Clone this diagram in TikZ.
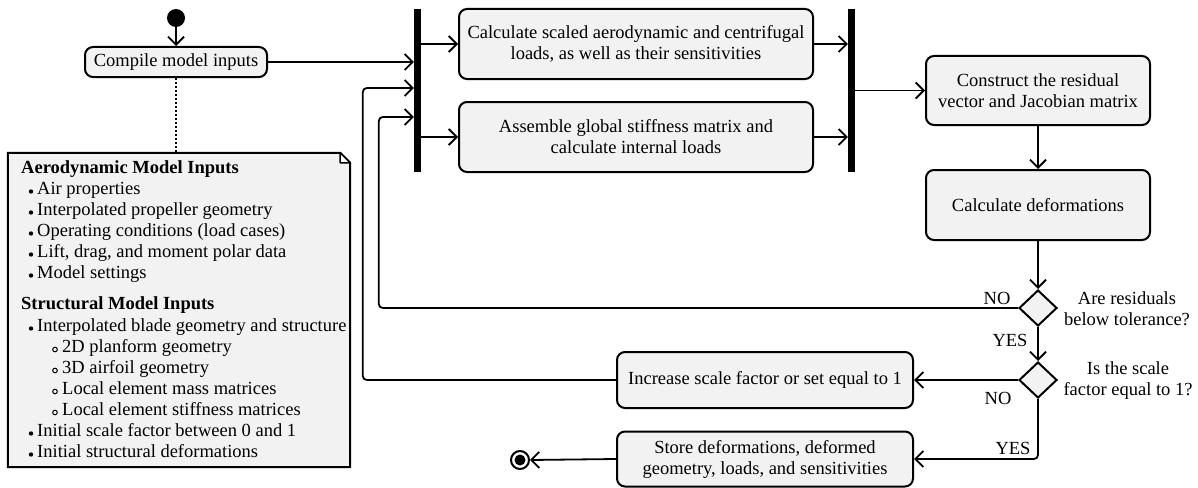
\documentclass[tikz,border=0pt]{standalone}
\usepackage{fontspec}
\setmainfont{Liberation Serif}
\usetikzlibrary{arrows.meta,shapes.geometric,calc}
\definecolor{boxgray}{HTML}{F2F2F2}
\begin{document}
\begin{tikzpicture}[x=1pt,y=-1pt,
  font=\fontsize{18.5}{21}\selectfont,
  every node/.style={inner sep=0pt},
  actbox/.style={draw, line width=2pt, fill=boxgray, rounded corners=8pt, align=center},
  barnode/.style={fill=black, minimum width=7pt, minimum height=163pt},
  arr/.style={line width=1.8pt, -{Straight Barb[length=8pt,width=16pt,line width=1.8pt]}},
  dec/.style={diamond, draw, line width=2pt, fill=boxgray, minimum width=38pt, minimum height=36pt},
  notetxt/.style={anchor=base west},
  lbl/.style={anchor=center}
]
\useasboundingbox (0,0) rectangle (1198,487);

% start
\node[circle, fill=black, minimum size=18pt] (start) at (176,18) {};
\node[actbox, minimum width=182pt, minimum height=30pt] (compile) at (176,62) {Compile model inputs};

% bars
\node[barnode] (bar1) at (417.5,90.5) {};
\node[barnode] (bar2) at (851.5,90.5) {};

% boxes
\node[actbox, minimum width=354pt, minimum height=70pt] (box1) at (636,44) {Calculate scaled aerodynamic and centrifugal\\loads, as well as their sensitivities};
\node[actbox, minimum width=354pt, minimum height=70pt] (box2) at (636,137) {Assemble global stiffness matrix and\\calculate internal loads};
\node[actbox, minimum width=224pt, minimum height=69pt] (box3) at (1038,90.5) {Construct the residual\\vector and Jacobian matrix};
\node[actbox, minimum width=224pt, minimum height=70pt] (box4) at (1038,205) {Calculate deformations};

% decisions
\node[dec] (d1) at (1038,308) {};
\node[dec] (d2) at (1038,380) {};
\node[lbl, align=center] (q1) at (1127,309) {Are residuals\\below tolerance?};
\node[lbl, align=center] (q2) at (1128,381) {Is the scale\\factor equal to 1?};
\node[lbl] (no1) at (997,298) {NO};
\node[lbl] (yes1) at (1010,340) {YES};
\node[lbl] (no2) at (998,398) {NO};
\node[lbl] (yes2) at (1013,448) {YES};

\node[actbox, minimum width=296pt, minimum height=56pt] (inc) at (765,380) {Increase scale factor or set equal to 1};
\node[actbox, minimum width=296pt, minimum height=55pt] (store) at (765,459) {Store deformations, deformed\\geometry, loads, and sensitivities};

% end
\node[circle, draw, line width=2pt, fill=white, minimum size=18pt] (end) at (520,460) {};
\fill[black] (end.center) circle (5.5pt);

% note
\node[minimum width=342pt, minimum height=314pt] (note) at (179,310) {};
\draw[line width=2pt, fill=boxgray] (note.north west) -- ([xshift=-10pt]note.north east) -- ([yshift=-10pt]note.north east) -- (note.south east) -- (note.south west) -- cycle;
\draw[line width=1.5pt, fill=white, line join=round] ([xshift=-10pt]note.north east) -- ([xshift=-10pt,yshift=-10pt]note.north east) -- ([yshift=-10pt]note.north east) -- cycle;
\draw[line width=2pt, dash pattern=on 2pt off 2pt] (compile.south) -- (compile.south |- note.north);

\node[notetxt] (h1) at (21,173) {\textbf{Aerodynamic Model Inputs}};
\node[notetxt] (a1) at (37,194) {Air properties};
\node[notetxt] (a2) at (37,215) {Interpolated propeller geometry};
\node[notetxt] (a3) at (37,236) {Operating conditions (load cases)};
\node[notetxt] (a4) at (37,257) {Lift, drag, and moment polar data};
\node[notetxt] (a5) at (37,278) {Model settings};
\node[notetxt] (h2) at (21,309) {\textbf{Structural Model Inputs}};
\node[notetxt] (s1) at (37,331) {Interpolated blade geometry and structure};
\node[notetxt] (s2) at (62,352) {2D planform geometry};
\node[notetxt] (s3) at (62,373) {3D airfoil geometry};
\node[notetxt] (s4) at (62,394) {Local element mass matrices};
\node[notetxt] (s5) at (62,415) {Local element stiffness matrices};
\node[notetxt] (s6) at (37,436) {Initial scale factor between 0 and 1};
\node[notetxt] (s7) at (37,457) {Initial structural deformations};
\foreach \yy in {194,215,236,257,278,331,436,457} {\fill (31,\yy-2.5) circle (2.2pt);}
\foreach \yy in {352,373,394,415} {\draw[line width=1pt] (55,\yy-2.5) circle (2.3pt);}

% connectors
\draw[arr] (start.south) -- (compile.north);
\draw[arr] (compile.east) -- (compile.east -| bar1.west);
\draw[arr] (bar1.east |- box1.west) -- (box1.west);
\draw[arr] (bar1.east |- box2.west) -- (box2.west);
\draw[arr] (box1.east) -- (box1.east -| bar2.west);
\draw[arr] (box2.east) -- (box2.east -| bar2.west);
\draw[arr] (bar2.east |- box3.west) -- (box3.west);
\draw[arr] (box3.south) -- (box4.north);
\draw[arr] (box4.south) -- (d1.north);
\draw[arr] (d1.south) -- (d2.north);
\draw[arr] (d2.west) -- (inc.east);
\draw[arr, rounded corners=4pt] (d2.south) |- (store.east);
\draw[arr] (store.west) -- (end.east);

\coordinate (in1) at (bar1.west |- 0,88);
\coordinate (in2) at (bar1.west |- 0,117);
\draw[arr, rounded corners=4pt] (inc.west) -| ([xshift=-51pt]in1) -- (in1);
\draw[arr, rounded corners=4pt] (d1.west) -| ([xshift=-35pt]in2) -- (in2);
\end{tikzpicture}
\end{document}
